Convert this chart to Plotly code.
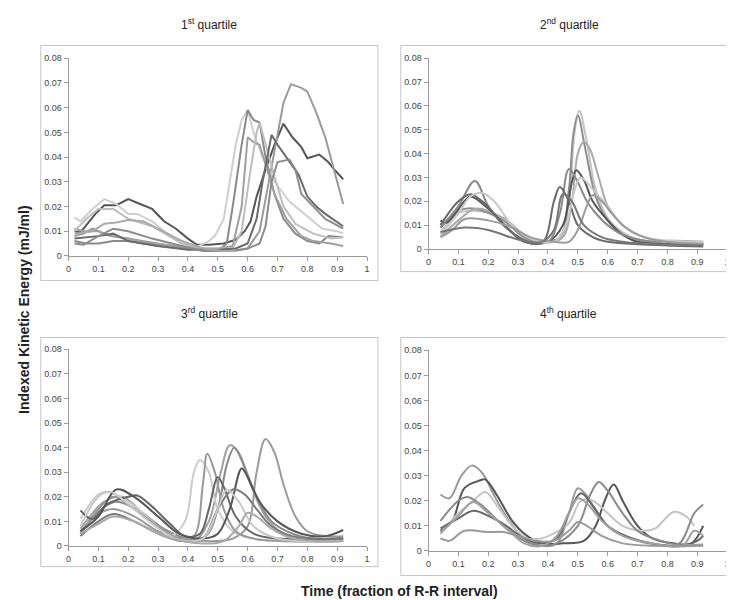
import plotly.graph_objects as go

# ---------------- data ----------------
# 1st quartile (jagged lines)
Q1_COLORS = ["#555555", "#9a9a9a", "#cfcfcf", "#8a8a8a", "#a0a0a0", "#bdbdbd", "#6a6a6a", "#8c8c8c", "#aaaaaa"]
Q1_X = [
    [0.02, 0.04, 0.09, 0.12, 0.16, 0.20, 0.24, 0.28, 0.32, 0.36, 0.40, 0.43, 0.47, 0.52, 0.56, 0.59, 0.61, 0.63, 0.66, 0.69, 0.72, 0.75, 0.78, 0.80, 0.84, 0.87, 0.89, 0.92],
    [0.02, 0.05, 0.08, 0.12, 0.15, 0.20, 0.30, 0.40, 0.45, 0.50, 0.55, 0.60, 0.64, 0.67, 0.70, 0.72, 0.745, 0.78, 0.80, 0.83, 0.86, 0.89, 0.92],
    [0.02, 0.04, 0.08, 0.12, 0.16, 0.20, 0.23, 0.28, 0.32, 0.38, 0.42, 0.47, 0.49, 0.52, 0.54, 0.56, 0.58, 0.60, 0.62, 0.65, 0.69, 0.74, 0.80, 0.85, 0.90, 0.92],
    [0.02, 0.06, 0.10, 0.15, 0.20, 0.30, 0.40, 0.50, 0.53, 0.55, 0.58, 0.60, 0.62, 0.64, 0.66, 0.69, 0.72, 0.76, 0.80, 0.84, 0.87, 0.92],
    [0.02, 0.05, 0.10, 0.14, 0.20, 0.28, 0.36, 0.44, 0.50, 0.55, 0.58, 0.60, 0.62, 0.64, 0.66, 0.69, 0.73, 0.78, 0.82, 0.88, 0.92],
    [0.02, 0.06, 0.10, 0.15, 0.20, 0.28, 0.38, 0.45, 0.55, 0.58, 0.61, 0.63, 0.64, 0.66, 0.69, 0.72, 0.76, 0.82, 0.88, 0.92],
    [0.02, 0.06, 0.10, 0.15, 0.20, 0.30, 0.40, 0.50, 0.56, 0.60, 0.63, 0.65, 0.68, 0.70, 0.73, 0.77, 0.80, 0.83, 0.86, 0.92],
    [0.02, 0.05, 0.10, 0.15, 0.20, 0.28, 0.38, 0.45, 0.55, 0.60, 0.64, 0.66, 0.68, 0.70, 0.74, 0.76, 0.78, 0.82, 0.86, 0.92],
    [0.02, 0.05, 0.08, 0.12, 0.16, 0.20, 0.25, 0.30, 0.38, 0.45, 0.52, 0.56],
]
Q1_Y = [
    [0.010, 0.0095, 0.017, 0.0205, 0.0205, 0.023, 0.021, 0.019, 0.014, 0.011, 0.007, 0.0045, 0.0045, 0.005, 0.0065, 0.010, 0.014, 0.024, 0.035, 0.045, 0.0535, 0.048, 0.044, 0.0395, 0.041, 0.038, 0.035, 0.031],
    [0.008, 0.009, 0.011, 0.009, 0.008, 0.007, 0.005, 0.003, 0.003, 0.002, 0.002, 0.003, 0.010, 0.030, 0.050, 0.062, 0.0695, 0.068, 0.0665, 0.058, 0.048, 0.035, 0.021],
    [0.0155, 0.014, 0.019, 0.023, 0.021, 0.017, 0.017, 0.014, 0.010, 0.005, 0.003, 0.006, 0.008, 0.015, 0.030, 0.045, 0.055, 0.059, 0.050, 0.040, 0.030, 0.022, 0.016, 0.011, 0.010, 0.009],
    [0.006, 0.005, 0.005, 0.006, 0.006, 0.004, 0.003, 0.002, 0.005, 0.020, 0.045, 0.059, 0.055, 0.054, 0.040, 0.025, 0.015, 0.009, 0.006, 0.005, 0.008, 0.0075],
    [0.011, 0.010, 0.010, 0.008, 0.007, 0.005, 0.004, 0.003, 0.003, 0.004, 0.020, 0.048, 0.046, 0.045, 0.037, 0.025, 0.015, 0.008, 0.006, 0.005, 0.004],
    [0.010, 0.015, 0.019, 0.019, 0.015, 0.012, 0.005, 0.003, 0.003, 0.010, 0.035, 0.050, 0.054, 0.045, 0.032, 0.020, 0.013, 0.009, 0.007, 0.0075],
    [0.007, 0.0075, 0.008, 0.009, 0.006, 0.004, 0.0025, 0.0025, 0.003, 0.005, 0.015, 0.030, 0.049, 0.045, 0.040, 0.033, 0.024, 0.020, 0.017, 0.012],
    [0.005, 0.0045, 0.008, 0.011, 0.010, 0.007, 0.004, 0.002, 0.002, 0.003, 0.005, 0.012, 0.030, 0.038, 0.039, 0.035, 0.025, 0.020, 0.015, 0.011],
    [0.009, 0.0095, 0.010, 0.013, 0.0135, 0.0145, 0.014, 0.011, 0.006, 0.003, 0.002, 0.002],
]

# 2nd quartile (smooth lines)
Q2_COLORS = ["#c4c4c4", "#8e8e8e", "#aaaaaa", "#555555", "#8a8a8a", "#6a6a6a", "#c8c8c8", "#9c9c9c", "#777777"]
Q2_X = [
    [0.04, 0.10, 0.15, 0.25, 0.32, 0.38, 0.44, 0.47, 0.49, 0.505, 0.53, 0.56, 0.60, 0.65, 0.70, 0.80, 0.92],
    [0.04, 0.10, 0.15, 0.25, 0.32, 0.38, 0.44, 0.47, 0.485, 0.50, 0.525, 0.56, 0.60, 0.65, 0.70, 0.80, 0.92],
    [0.04, 0.10, 0.16, 0.25, 0.33, 0.40, 0.45, 0.48, 0.50, 0.52, 0.54, 0.57, 0.60, 0.65, 0.70, 0.80, 0.92],
    [0.04, 0.06, 0.12, 0.14, 0.20, 0.27, 0.32, 0.40, 0.45, 0.48, 0.495, 0.52, 0.55, 0.60, 0.65, 0.70, 0.92],
    [0.04, 0.10, 0.155, 0.20, 0.25, 0.32, 0.40, 0.44, 0.47, 0.50, 0.53, 0.56, 0.60, 0.65, 0.75, 0.81, 0.92],
    [0.04, 0.10, 0.14, 0.18, 0.24, 0.30, 0.36, 0.39, 0.42, 0.44, 0.47, 0.50, 0.55, 0.60, 0.70, 0.92],
    [0.04, 0.10, 0.14, 0.18, 0.22, 0.28, 0.35, 0.42, 0.46, 0.49, 0.51, 0.55, 0.60, 0.65, 0.72, 0.92],
    [0.04, 0.08, 0.12, 0.20, 0.28, 0.34, 0.42, 0.47, 0.50, 0.53, 0.55, 0.58, 0.62, 0.66, 0.72, 0.80, 0.92],
    [0.04, 0.12, 0.20, 0.30, 0.38, 0.42, 0.45, 0.48, 0.52, 0.58, 0.65, 0.75, 0.92],
]
Q2_Y = [
    [0.007, 0.015, 0.016, 0.013, 0.006, 0.003, 0.004, 0.020, 0.050, 0.058, 0.045, 0.025, 0.013, 0.007, 0.004, 0.003, 0.002],
    [0.009, 0.016, 0.017, 0.012, 0.005, 0.003, 0.005, 0.025, 0.048, 0.056, 0.042, 0.022, 0.012, 0.006, 0.004, 0.002, 0.002],
    [0.005, 0.012, 0.017, 0.013, 0.005, 0.003, 0.005, 0.020, 0.040, 0.045, 0.042, 0.030, 0.018, 0.010, 0.006, 0.003, 0.002],
    [0.012, 0.011, 0.020, 0.022, 0.017, 0.008, 0.003, 0.003, 0.010, 0.028, 0.033, 0.029, 0.020, 0.012, 0.006, 0.003, 0.002],
    [0.009, 0.018, 0.0285, 0.018, 0.010, 0.004, 0.003, 0.015, 0.0335, 0.028, 0.020, 0.015, 0.010, 0.006, 0.003, 0.0035, 0.003],
    [0.010, 0.020, 0.023, 0.020, 0.012, 0.005, 0.002, 0.004, 0.020, 0.026, 0.020, 0.010, 0.005, 0.003, 0.002, 0.001],
    [0.006, 0.015, 0.022, 0.0235, 0.020, 0.010, 0.004, 0.003, 0.010, 0.025, 0.030, 0.025, 0.018, 0.010, 0.005, 0.003],
    [0.005, 0.008, 0.0125, 0.012, 0.009, 0.005, 0.003, 0.003, 0.008, 0.018, 0.0225, 0.020, 0.014, 0.009, 0.005, 0.003, 0.002],
    [0.007, 0.009, 0.008, 0.004, 0.003, 0.008, 0.023, 0.020, 0.010, 0.005, 0.003, 0.002, 0.0015],
]

# 3rd quartile (smooth lines)
Q3_COLORS = ["#9a9a9a", "#a2a2a2", "#8a8a8a", "#cccccc", "#999999", "#666666", "#555555", "#7a7a7a", "#c8c8c8", "#aaaaaa"]
Q3_X = [
    [0.04, 0.10, 0.15, 0.22, 0.30, 0.38, 0.45, 0.55, 0.60, 0.63, 0.66, 0.69, 0.72, 0.76, 0.80, 0.86, 0.92],
    [0.04, 0.12, 0.18, 0.26, 0.34, 0.42, 0.47, 0.51, 0.54, 0.57, 0.61, 0.66, 0.72, 0.80, 0.92],
    [0.04, 0.10, 0.16, 0.24, 0.32, 0.40, 0.46, 0.50, 0.53, 0.555, 0.59, 0.63, 0.68, 0.75, 0.82, 0.92],
    [0.04, 0.10, 0.13, 0.20, 0.28, 0.34, 0.39, 0.42, 0.44, 0.47, 0.50, 0.55, 0.62, 0.70, 0.92],
    [0.04, 0.10, 0.15, 0.22, 0.30, 0.37, 0.42, 0.45, 0.465, 0.49, 0.52, 0.56, 0.62, 0.92],
    [0.04, 0.08, 0.13, 0.20, 0.23, 0.28, 0.34, 0.39, 0.44, 0.47, 0.50, 0.52, 0.56, 0.62, 0.70, 0.92],
    [0.04, 0.10, 0.16, 0.22, 0.30, 0.37, 0.45, 0.50, 0.54, 0.58, 0.60, 0.64, 0.70, 0.78, 0.86, 0.92],
    [0.04, 0.10, 0.15, 0.22, 0.30, 0.38, 0.45, 0.50, 0.55, 0.59, 0.63, 0.68, 0.75, 0.92],
    [0.04, 0.10, 0.14, 0.20, 0.28, 0.36, 0.45, 0.50, 0.53, 0.57, 0.62, 0.70, 0.92],
    [0.04, 0.10, 0.15, 0.22, 0.30, 0.38, 0.45, 0.52, 0.57, 0.60, 0.63, 0.68, 0.75, 0.92],
]
Q3_Y = [
    [0.006, 0.013, 0.015, 0.012, 0.006, 0.003, 0.002, 0.003, 0.008, 0.030, 0.0435, 0.038, 0.025, 0.012, 0.006, 0.004, 0.004],
    [0.007, 0.018, 0.020, 0.012, 0.004, 0.002, 0.010, 0.030, 0.041, 0.038, 0.025, 0.012, 0.005, 0.002, 0.002],
    [0.005, 0.014, 0.018, 0.014, 0.007, 0.003, 0.004, 0.015, 0.033, 0.040, 0.032, 0.020, 0.010, 0.005, 0.003, 0.003],
    [0.011, 0.021, 0.022, 0.018, 0.010, 0.004, 0.010, 0.030, 0.035, 0.030, 0.015, 0.006, 0.003, 0.002, 0.002],
    [0.005, 0.015, 0.020, 0.015, 0.008, 0.003, 0.004, 0.025, 0.0375, 0.030, 0.015, 0.006, 0.003, 0.002],
    [0.0145, 0.011, 0.017, 0.020, 0.0205, 0.016, 0.009, 0.004, 0.005, 0.015, 0.028, 0.024, 0.012, 0.005, 0.003, 0.003],
    [0.006, 0.012, 0.023, 0.020, 0.012, 0.005, 0.003, 0.005, 0.015, 0.0315, 0.028, 0.018, 0.010, 0.005, 0.004, 0.0065],
    [0.004, 0.010, 0.013, 0.010, 0.005, 0.002, 0.003, 0.015, 0.023, 0.021, 0.015, 0.008, 0.004, 0.003],
    [0.008, 0.020, 0.022, 0.017, 0.009, 0.003, 0.003, 0.015, 0.023, 0.018, 0.008, 0.003, 0.002],
    [0.005, 0.009, 0.012, 0.010, 0.005, 0.002, 0.001, 0.002, 0.008, 0.0135, 0.012, 0.007, 0.003, 0.002],
]

# 4th quartile (smooth lines)
Q4_COLORS = ["#999999", "#555555", "#c4c4c4", "#8a8a8a", "#666666", "#a0a0a0", "#9a9a9a"]
Q4_X = [
    [0.04, 0.07, 0.11, 0.145, 0.18, 0.22, 0.27, 0.32, 0.38, 0.43, 0.47, 0.50, 0.53, 0.57, 0.62, 0.70, 0.80, 0.92],
    [0.04, 0.08, 0.12, 0.17, 0.19, 0.23, 0.28, 0.33, 0.38, 0.45, 0.52, 0.56, 0.59, 0.62, 0.65, 0.70, 0.75, 0.82, 0.88, 0.92],
    [0.04, 0.10, 0.15, 0.19, 0.23, 0.28, 0.33, 0.38, 0.42, 0.47, 0.51, 0.55, 0.60, 0.65, 0.72, 0.76, 0.82, 0.86, 0.89],
    [0.04, 0.10, 0.13, 0.18, 0.25, 0.32, 0.38, 0.43, 0.50, 0.54, 0.57, 0.60, 0.65, 0.70, 0.78, 0.84, 0.89, 0.92],
    [0.04, 0.10, 0.15, 0.20, 0.26, 0.32, 0.38, 0.43, 0.47, 0.51, 0.55, 0.60, 0.66, 0.75, 0.85, 0.90, 0.92],
    [0.04, 0.10, 0.15, 0.20, 0.27, 0.32, 0.38, 0.43, 0.47, 0.50, 0.53, 0.58, 0.65, 0.75, 0.85, 0.89, 0.92],
    [0.04, 0.07, 0.12, 0.20, 0.25, 0.30, 0.36, 0.42, 0.47, 0.50, 0.53, 0.58, 0.65, 0.75, 0.92],
]
Q4_Y = [
    [0.0225, 0.021, 0.030, 0.034, 0.031, 0.022, 0.012, 0.005, 0.002, 0.003, 0.015, 0.025, 0.022, 0.014, 0.008, 0.004, 0.002, 0.002],
    [0.008, 0.012, 0.025, 0.028, 0.0285, 0.022, 0.012, 0.006, 0.003, 0.003, 0.004, 0.010, 0.020, 0.0265, 0.020, 0.010, 0.005, 0.003, 0.003, 0.010],
    [0.007, 0.015, 0.020, 0.0235, 0.018, 0.010, 0.005, 0.005, 0.007, 0.011, 0.020, 0.020, 0.015, 0.010, 0.008, 0.009, 0.0155, 0.014, 0.010],
    [0.012, 0.020, 0.0215, 0.018, 0.010, 0.004, 0.002, 0.003, 0.010, 0.022, 0.0275, 0.024, 0.015, 0.008, 0.004, 0.003, 0.015, 0.0185],
    [0.009, 0.013, 0.016, 0.014, 0.010, 0.005, 0.003, 0.005, 0.015, 0.023, 0.018, 0.010, 0.006, 0.003, 0.002, 0.004, 0.006],
    [0.007, 0.014, 0.0195, 0.015, 0.008, 0.003, 0.002, 0.006, 0.015, 0.021, 0.019, 0.012, 0.006, 0.003, 0.002, 0.008, 0.006],
    [0.005, 0.004, 0.008, 0.0075, 0.0075, 0.006, 0.004, 0.004, 0.008, 0.0115, 0.010, 0.006, 0.003, 0.002, 0.0025],
]

PANEL_TITLES = ["1<sup>st</sup> quartile", "2<sup>nd</sup> quartile", "3<sup>rd</sup> quartile", "4<sup>th</sup> quartile"]
X_TICKS = [0, 0.1, 0.2, 0.3, 0.4, 0.5, 0.6, 0.7, 0.8, 0.9, 1]
X_TICKTEXT = ["0", "0.1", "0.2", "0.3", "0.4", "0.5", "0.6", "0.7", "0.8", "0.9", "1"]
Y_TICKS = [0, 0.01, 0.02, 0.03, 0.04, 0.05, 0.06, 0.07, 0.08]
Y_TICKTEXT = ["0", "0.01", "0.02", "0.03", "0.04", "0.05", "0.06", "0.07", "0.08"]
Y_TITLE = "Indexed Kinetic Energy (mJ/ml)"
X_TITLE = "Time (fraction of R-R interval)"

# ---------------- layout geometry (pixels) ----------------
W, H = 734, 600
def px(x):
    return x / W
def py(y):
    return 1 - y / H

# plot areas: (x0, x1, ybottom, ytop) in pixels
PLOTS = [(58, 359, 247, 46), (421, 722, 240, 46), (58, 359, 542, 342), (421, 722, 547, 343)]
BOXES = [(30, 370, 33, 272), (393, 733, 33, 263), (30, 370, 330, 563), (393, 733, 330, 572)]
TITLE_POS = [(200, 11), (563, 11), (200, 305), (562, 305)]

fig = go.Figure()
panels = [(Q1_X, Q1_Y, Q1_COLORS, "linear"), (Q2_X, Q2_Y, Q2_COLORS, "spline"),
          (Q3_X, Q3_Y, Q3_COLORS, "spline"), (Q4_X, Q4_Y, Q4_COLORS, "spline")]

font_fam = "Liberation Sans, Arial, sans-serif"
for i, (xs, ys, cols, shape) in enumerate(panels):
    n = "" if i == 0 else str(i + 1)
    for xv, yv, c in zip(xs, ys, cols):
        line = dict(color=c, width=2, shape=shape)
        if shape == "spline":
            line["smoothing"] = 1.0
        fig.add_trace(go.Scatter(x=xv, y=yv, mode="lines", line=line,
                                 xaxis="x" + n, yaxis="y" + n, showlegend=False,
                                 hoverinfo="skip"))
    x0, x1, yb, yt = PLOTS[i]
    fig.layout["xaxis" + n] = dict(
        domain=[px(x0), px(x1)], range=[0, 1], anchor="y" + n,
        tickvals=X_TICKS, ticktext=X_TICKTEXT, ticks="outside", ticklen=4,
        tickcolor="#9a9a9a", showline=True, linecolor="#9a9a9a", linewidth=1,
        showgrid=False, zeroline=False,
        tickfont=dict(family=font_fam, size=9, color="#444444"), fixedrange=True)
    fig.layout["yaxis" + n] = dict(
        domain=[py(yb), py(yt)], range=[0, 0.08], anchor="x" + n,
        tickvals=Y_TICKS, ticktext=Y_TICKTEXT, ticks="outside", ticklen=4,
        tickcolor="#9a9a9a", showline=True, linecolor="#9a9a9a", linewidth=1,
        showgrid=False, zeroline=False,
        tickfont=dict(family=font_fam, size=9, color="#444444"), fixedrange=True)
    bx0, bx1, by0, by1 = BOXES[i]
    fig.add_shape(type="rect", xref="paper", yref="paper",
                  x0=px(bx0), x1=px(bx1), y0=py(by1), y1=py(by0),
                  line=dict(color="#c4c4c4", width=1), fillcolor="rgba(0,0,0,0)", layer="below")
    tx, ty = TITLE_POS[i]
    fig.add_annotation(text=PANEL_TITLES[i], xref="paper", yref="paper",
                       x=px(tx), y=py(ty), showarrow=False, xanchor="center", yanchor="middle",
                       font=dict(family=font_fam, size=12, color="#222222"))

fig.add_annotation(text="<b>" + Y_TITLE + "</b>", xref="paper", yref="paper",
                   x=px(13), y=py(301), textangle=-90, showarrow=False,
                   xanchor="center", yanchor="middle",
                   font=dict(family=font_fam, size=14, color="#222222"))
fig.add_annotation(text="<b>" + X_TITLE + "</b>", xref="paper", yref="paper",
                   x=px(392), y=py(588), showarrow=False,
                   xanchor="center", yanchor="middle",
                   font=dict(family=font_fam, size=14, color="#222222"))

fig.update_layout(width=W, height=H, margin=dict(l=0, r=0, t=0, b=0),
                  paper_bgcolor="white", plot_bgcolor="white")

fig.write_html("out.html", config={"displayModeBar": False})
